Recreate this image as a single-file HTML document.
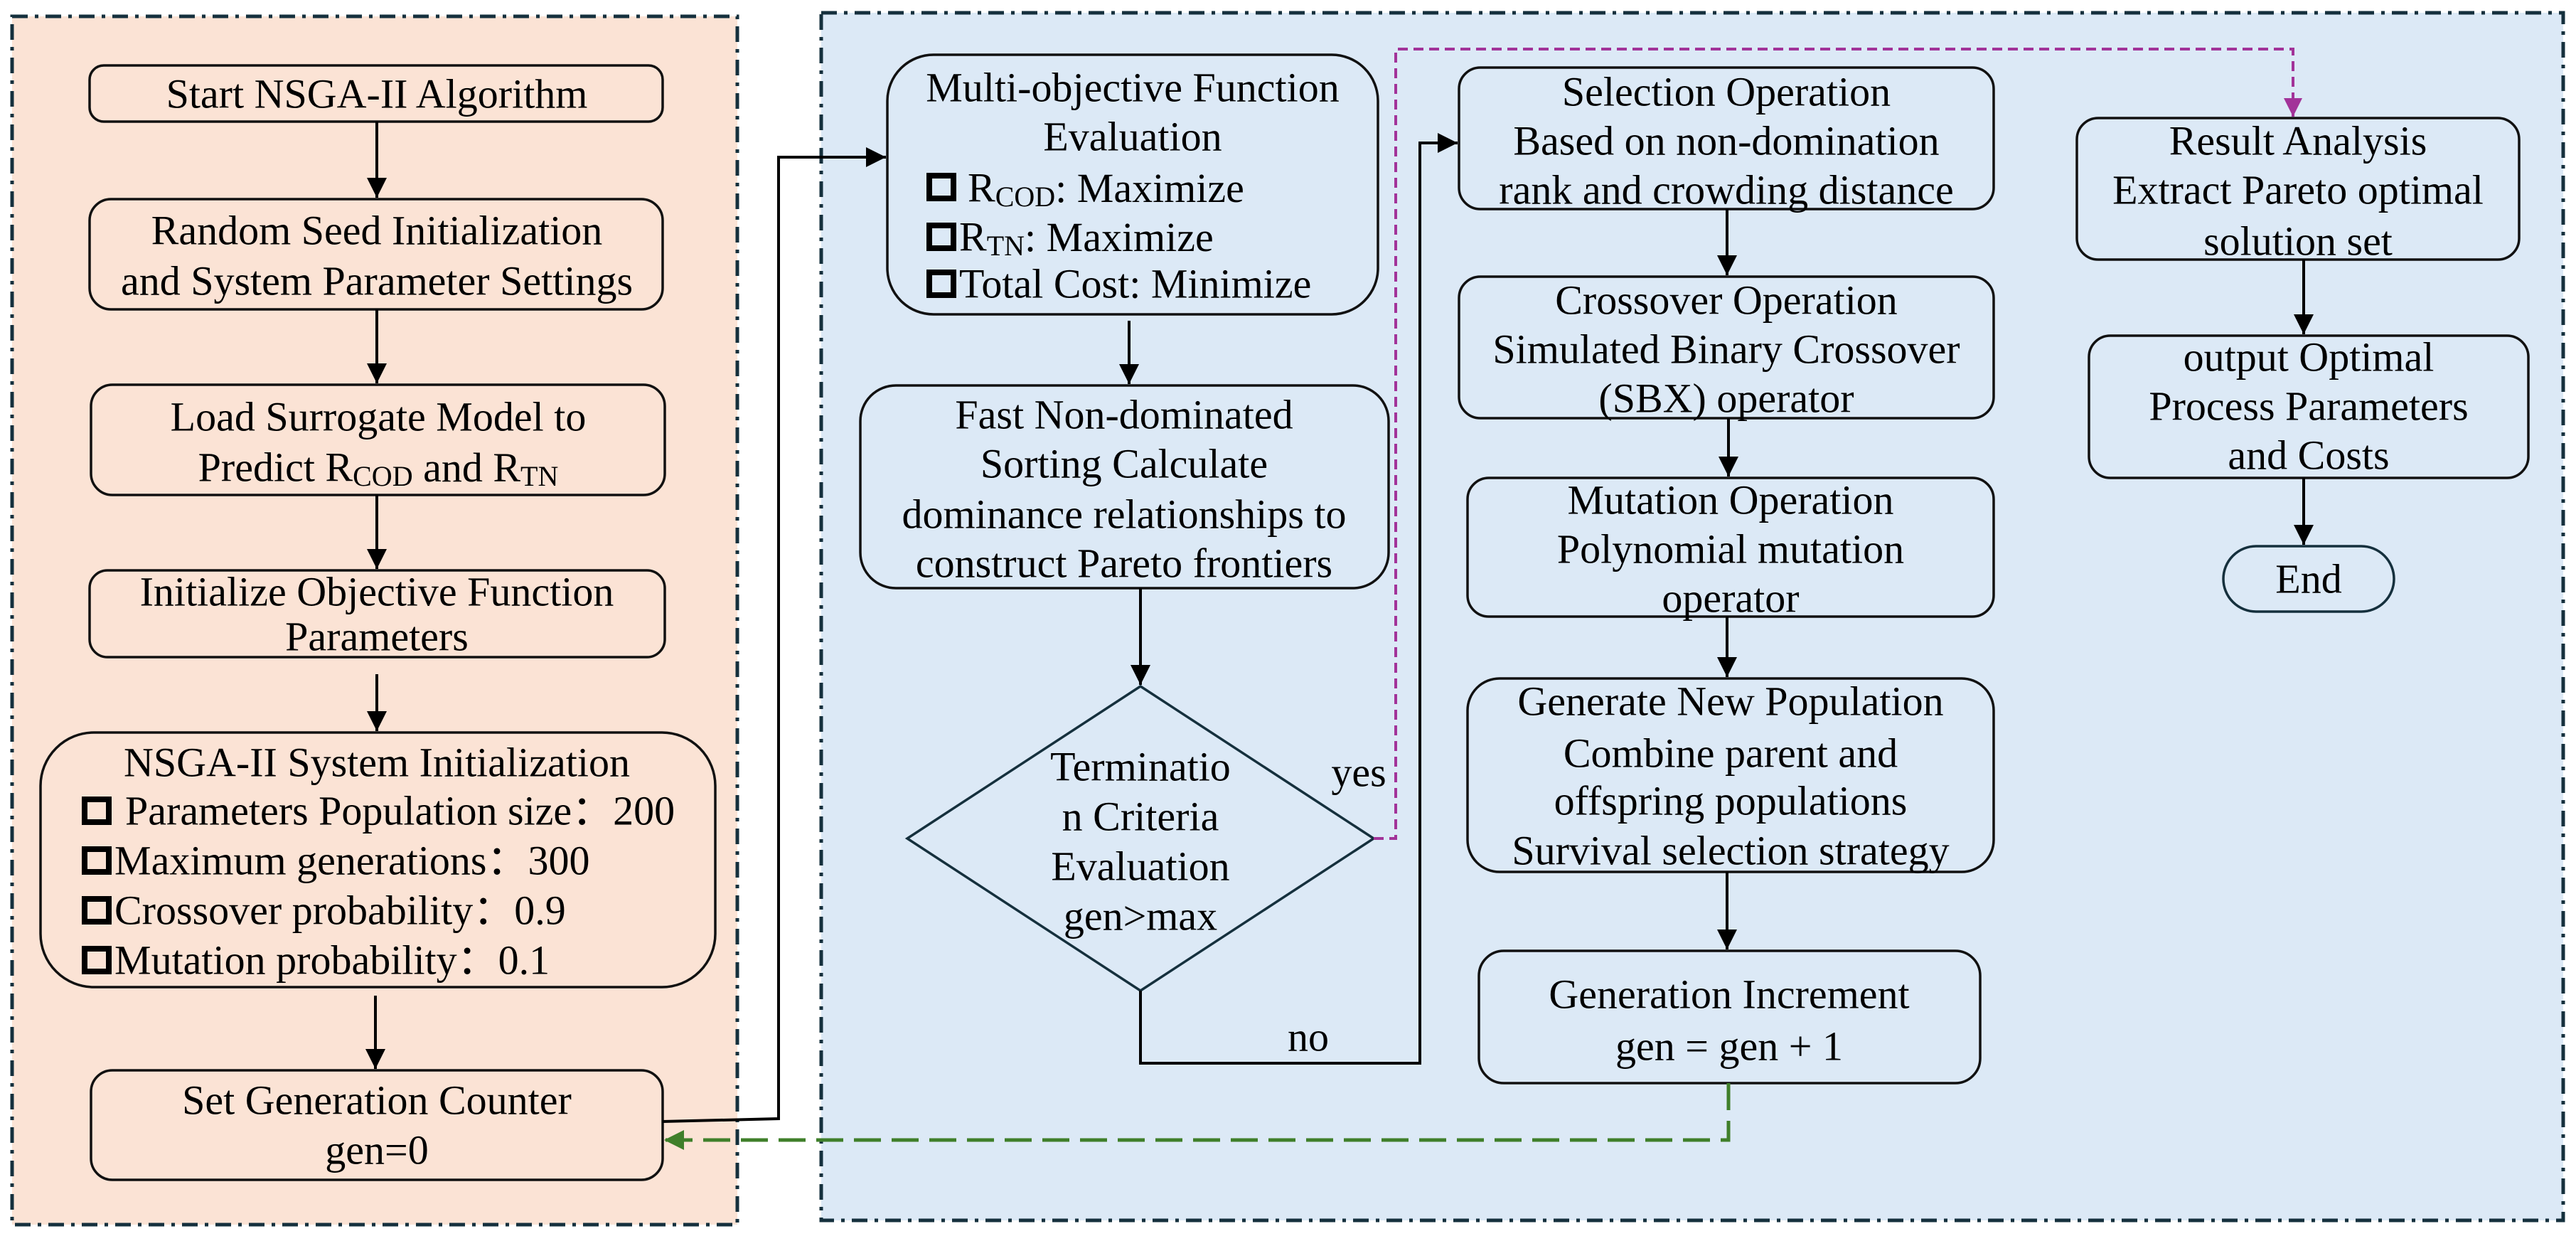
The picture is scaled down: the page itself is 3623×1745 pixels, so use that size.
<!DOCTYPE html>
<html><head><meta charset="utf-8"><style>
html,body{margin:0;padding:0;background:#fff;}
svg{display:block;}
text{font-family:"Liberation Serif","Times New Roman",serif;font-size:58px;fill:#000;}
</style></head><body>
<svg width="3623" height="1745" viewBox="0 0 3623 1745" xmlns="http://www.w3.org/2000/svg">
<defs>
<marker id="a" viewBox="0 0 10 10" refX="10" refY="5" markerWidth="28" markerHeight="32" markerUnits="userSpaceOnUse" orient="auto"><path d="M0,0 L10,5 L0,10 z" fill="#000"/></marker>
<marker id="am" viewBox="0 0 10 10" refX="10" refY="5" markerWidth="26" markerHeight="28" markerUnits="userSpaceOnUse" orient="auto"><path d="M0,0 L10,5 L0,10 z" fill="#a23399"/></marker>
<marker id="ag" viewBox="0 0 10 10" refX="10" refY="5" markerWidth="28" markerHeight="30" markerUnits="userSpaceOnUse" orient="auto"><path d="M0,0 L10,5 L0,10 z" fill="#3f7f2a"/></marker>
</defs>
<rect x="17" y="23" width="1020" height="1699" fill="#fbe3d5" stroke="#15303d" stroke-width="5" stroke-dasharray="22 10 5 10"/>
<rect x="1155" y="18" width="2450" height="1698" fill="#dce9f6" stroke="#15303d" stroke-width="5" stroke-dasharray="22 10 5 10"/>

<g fill="none" stroke="#111" stroke-width="3.5">
<rect x="126" y="92" width="806" height="79" rx="20"/>
<rect x="126" y="280" width="806" height="155" rx="30"/>
<rect x="128" y="541" width="807" height="155" rx="30"/>
<rect x="126" y="802" width="809" height="122" rx="25"/>
<rect x="57" y="1030" width="949" height="358" rx="75"/>
<rect x="128" y="1505" width="804" height="154" rx="30"/>
<rect x="1248" y="77" width="690" height="365" rx="65"/>
<rect x="1210" y="542" width="743" height="285" rx="50"/>
<polygon points="1604,965 1932,1179 1604,1393 1276,1179" stroke="#15303d"/>
<rect x="2052" y="95" width="752" height="199" rx="30"/>
<rect x="2052" y="389" width="752" height="199" rx="30"/>
<rect x="2064" y="672" width="740" height="195" rx="30"/>
<rect x="2064" y="954" width="740" height="272" rx="45"/>
<rect x="2080" y="1337" width="705" height="186" rx="35"/>
<rect x="2921" y="166" width="622" height="199" rx="30"/>
<rect x="2938" y="472" width="618" height="200" rx="30"/>
<rect x="3127" y="768" width="240" height="92" rx="46" stroke="#15303d"/>
</g>

<g stroke="#000" stroke-width="4" fill="none">
<line x1="530" y1="171" x2="530" y2="278" marker-end="url(#a)"/>
<line x1="530" y1="435" x2="530" y2="539" marker-end="url(#a)"/>
<line x1="530" y1="696" x2="530" y2="800" marker-end="url(#a)"/>
<line x1="530" y1="948" x2="530" y2="1028" marker-end="url(#a)"/>
<line x1="528" y1="1400" x2="528" y2="1503" marker-end="url(#a)"/>
<polyline points="932,1577 1095,1573 1095,221 1246,221" marker-end="url(#a)"/>
<line x1="1588" y1="451" x2="1588" y2="540" marker-end="url(#a)"/>
<line x1="1604" y1="827" x2="1604" y2="963" marker-end="url(#a)"/>
<polyline points="1604,1393 1604,1495 1997,1495 1997,201 2050,201" marker-end="url(#a)"/>
<line x1="2429" y1="294" x2="2429" y2="387" marker-end="url(#a)"/>
<line x1="2431" y1="588" x2="2431" y2="670" marker-end="url(#a)"/>
<line x1="2429" y1="867" x2="2429" y2="952" marker-end="url(#a)"/>
<line x1="2429" y1="1226" x2="2429" y2="1335" marker-end="url(#a)"/>
<line x1="3240" y1="365" x2="3240" y2="470" marker-end="url(#a)"/>
<line x1="3240" y1="672" x2="3240" y2="766" marker-end="url(#a)"/>
</g>
<polyline points="1932,1179 1963,1179 1963,69 3225,69 3225,164" fill="none" stroke="#a23399" stroke-width="4" stroke-dasharray="14 8" marker-end="url(#am)"/>
<polyline points="2431,1523 2431,1603 934,1603" fill="none" stroke="#3f7f2a" stroke-width="5" stroke-dasharray="38 15" marker-end="url(#ag)"/>

<g fill="none" stroke="#000" stroke-width="8">
<rect x="119" y="1124" width="34" height="32"/>
<rect x="119" y="1194" width="34" height="32"/>
<rect x="119" y="1264" width="34" height="32"/>
<rect x="119" y="1334" width="34" height="32"/>
<rect x="1307" y="247" width="34" height="32"/>
<rect x="1307" y="317" width="34" height="32"/>
<rect x="1307" y="383" width="34" height="32"/>
</g>

<g text-anchor="middle" dominant-baseline="central">
<text x="530" y="132">Start NSGA-II Algorithm</text>
<text x="530" y="324">Random Seed Initialization</text>
<text x="530" y="395">and System Parameter Settings</text>
<text x="532" y="586">Load Surrogate Model to</text>
<text x="532" y="657">Predict R<tspan font-size="40" dy="12">COD</tspan><tspan dy="-12"> and R</tspan><tspan font-size="40" dy="12">TN</tspan></text>
<text x="530" y="832">Initialize Objective Function</text>
<text x="530" y="895">Parameters</text>
<text x="530" y="1072">NSGA-II System Initialization</text>
<text x="530" y="1547">Set Generation Counter</text>
<text x="530" y="1617">gen=0</text>
<text x="1593" y="123">Multi-objective Function</text>
<text x="1593" y="192">Evaluation</text>
<text x="1581" y="583">Fast Non-dominated</text>
<text x="1581" y="652">Sorting Calculate</text>
<text x="1581" y="723">dominance relationships to</text>
<text x="1581" y="792">construct Pareto frontiers</text>
<text x="1604" y="1078">Terminatio</text>
<text x="1604" y="1148">n Criteria</text>
<text x="1604" y="1218">Evaluation</text>
<text x="1604" y="1288">gen&gt;max</text>
<text x="1911" y="1086">yes</text>
<text x="1840" y="1458">no</text>
<text x="2428" y="129">Selection Operation</text>
<text x="2428" y="198">Based on non-domination</text>
<text x="2428" y="267">rank and crowding distance</text>
<text x="2428" y="422">Crossover Operation</text>
<text x="2428" y="491">Simulated Binary Crossover</text>
<text x="2428" y="560">(SBX) operator</text>
<text x="2434" y="703">Mutation Operation</text>
<text x="2434" y="772">Polynomial mutation</text>
<text x="2434" y="841">operator</text>
<text x="2434" y="986">Generate New Population</text>
<text x="2434" y="1059">Combine parent and</text>
<text x="2434" y="1126">offspring populations</text>
<text x="2434" y="1196">Survival selection strategy</text>
<text x="2432" y="1398">Generation Increment</text>
<text x="2432" y="1471">gen = gen + 1</text>
<text x="3232" y="198">Result Analysis</text>
<text x="3232" y="267">Extract Pareto optimal</text>
<text x="3232" y="339">solution set</text>
<text x="3247" y="502">output Optimal</text>
<text x="3247" y="571">Process Parameters</text>
<text x="3247" y="640">and Costs</text>
<text x="3247" y="814">End</text>
</g>
<g dominant-baseline="central">
<text x="176" y="1140">Parameters Population size：200</text>
<text x="161" y="1210">Maximum generations：300</text>
<text x="161" y="1280">Crossover probability：0.9</text>
<text x="161" y="1350">Mutation probability：0.1</text>
<text x="1361" y="264">R<tspan font-size="40" dy="12">COD</tspan><tspan dy="-12">: Maximize</tspan></text>
<text x="1349" y="333">R<tspan font-size="40" dy="12">TN</tspan><tspan dy="-12">: Maximize</tspan></text>
<text x="1349" y="399">Total Cost: Minimize</text>
</g>
</svg>
</body></html>
